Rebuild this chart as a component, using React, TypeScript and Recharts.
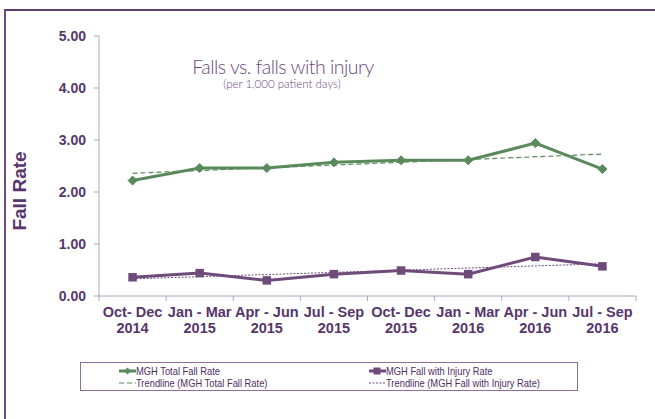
import React from 'react';
import { LineChart, Line, XAxis, YAxis, ReferenceLine } from 'recharts';

const periods = ['Oct- Dec', 'Jan - Mar', 'Apr - Jun', 'Jul - Sep', 'Oct- Dec', 'Jan - Mar', 'Apr - Jun', 'Jul - Sep'];
const years = ['2014', '2015', '2015', '2015', '2015', '2016', '2016', '2016'];
const totalFallRate = [2.22, 2.46, 2.46, 2.57, 2.61, 2.61, 2.94, 2.44];
const injuryRate = [0.36, 0.44, 0.3, 0.42, 0.49, 0.42, 0.75, 0.57];
const totalTrendEnds = [2.36, 2.73];
const injuryTrendEnds = [0.33, 0.62];
const yTicks = [0, 1, 2, 3, 4, 5];

const GREEN = '#5a895c';
const PURPLE = '#6e4b7a';
const TEXT = '#57366a';
const AXIS = '#b7a1c0';

const data = periods.map((p, i) => ({
  cat: `${p} ${years[i]}`,
  total: totalFallRate[i],
  injury: injuryRate[i],
}));
const firstCat = data[0].cat;
const lastCat = data[data.length - 1].cat;

const XTick = (props: any) => {
  const { x, y, payload } = props;
  const i = payload.index;
  const off = payload.offset || 0;
  return (
    <g>
      <line x1={x - off} y1={y} x2={x - off} y2={y + 5} stroke={AXIS} strokeWidth={1} />
      {i === periods.length - 1 && (
        <line x1={x + off} y1={y} x2={x + off} y2={y + 5} stroke={AXIS} strokeWidth={1} />
      )}
      <text x={x} y={y + 21} textAnchor="middle" fill={TEXT} fontSize={14.5} fontWeight="bold" fontFamily="Liberation Sans, Arial, sans-serif">
        {periods[i]}
      </text>
      <text x={x} y={y + 37} textAnchor="middle" fill={TEXT} fontSize={14.5} fontWeight="bold" fontFamily="Liberation Sans, Arial, sans-serif">
        {years[i]}
      </text>
    </g>
  );
};

const Diamond = (props: any) => {
  const { cx, cy } = props;
  if (cx == null || cy == null) return null;
  const r = 4.5;
  return <polygon points={`${cx},${cy - r} ${cx + r},${cy} ${cx},${cy + r} ${cx - r},${cy}`} fill={GREEN} stroke={GREEN} strokeWidth={1} />;
};

const Square = (props: any) => {
  const { cx, cy } = props;
  if (cx == null || cy == null) return null;
  const s = 8.5;
  return <rect x={cx - s / 2} y={cy - s / 2} width={s} height={s} fill={PURPLE} />;
};

const YLabel = (props: any) => {
  const vb = props.viewBox || {};
  const cx = (vb.x || 0) + 19;
  const cy = (vb.y || 0) + (vb.height || 0) / 2 + 25;
  return (
    <text x={cx} y={cy} transform={`rotate(-90, ${cx}, ${cy})`} textAnchor="middle" dominantBaseline="central" fill={TEXT} fontSize={19} fontWeight="bold" fontFamily="Liberation Sans, Arial, sans-serif">
      Fall Rate
    </text>
  );
};

const legendFont: React.CSSProperties = {
  position: 'absolute',
  fontFamily: '"Liberation Sans", Arial, sans-serif',
  fontSize: 11,
  color: '#4e2d5f',
  lineHeight: '12px',
  whiteSpace: 'nowrap',
  transform: 'scaleX(0.85)',
  transformOrigin: '0 0',
};

export default function App() {
  return (
    <div style={{ position: 'absolute', left: 0, top: 0, width: 655, height: 419, background: '#fff', overflow: 'hidden' }}>
      <div style={{ position: 'absolute', left: 4, top: 9, width: 700, height: 500, borderTop: '2px solid #5e3d6e', borderLeft: '2px solid #6e4b7a' }} />
      <LineChart
        width={655}
        height={419}
        data={data}
        margin={{ top: 36, right: 19, bottom: 83, left: 0 }}
        style={{ position: 'absolute', left: 0, top: 0 }}
      >
        <XAxis
          dataKey="cat"
          scale="band"
          height={40}
          interval={0}
          tickLine={false}
          tickSize={0}
          tickMargin={0}
          axisLine={{ stroke: AXIS, strokeWidth: 1 }}
          tick={<XTick />}
        />
        <YAxis
          width={99}
          domain={[0, 5]}
          ticks={yTicks}
          interval={0}
          tickSize={5}
          tickMargin={8}
          tickLine={{ stroke: AXIS }}
          axisLine={{ stroke: AXIS, strokeWidth: 1 }}
          tickFormatter={(v: number) => v.toFixed(2)}
          tick={{ fill: TEXT, fontSize: 14, fontWeight: 'bold', fontFamily: 'Liberation Sans, Arial, sans-serif' }}
          label={<YLabel />}
        />
        <ReferenceLine
          segment={[{ x: firstCat, y: totalTrendEnds[0] }, { x: lastCat, y: totalTrendEnds[1] }]}
          stroke={GREEN}
          strokeWidth={1.2}
          strokeDasharray="5 3"
        />
        <ReferenceLine
          segment={[{ x: firstCat, y: injuryTrendEnds[0] }, { x: lastCat, y: injuryTrendEnds[1] }]}
          stroke={PURPLE}
          strokeWidth={1}
          strokeDasharray="2 1.5"
        />
        <Line dataKey="total" stroke={GREEN} strokeWidth={3} dot={<Diamond />} activeDot={false} isAnimationActive={false} />
        <Line dataKey="injury" stroke={PURPLE} strokeWidth={3} dot={<Square />} activeDot={false} isAnimationActive={false} />
      </LineChart>

      <div style={{ position: 'absolute', left: 133, top: 57, width: 300, height: 20, lineHeight: '20px', textAlign: 'center', fontFamily: 'Lato, "Open Sans", sans-serif', fontWeight: 300, fontSize: 19.5, letterSpacing: -0.5, color: '#6a4979' }}>
        Falls vs. falls with injury
      </div>
      <div style={{ position: 'absolute', left: 132, top: 78, width: 300, height: 12, lineHeight: '12px', textAlign: 'center', fontFamily: 'Lato, "Open Sans", sans-serif', fontWeight: 300, fontSize: 11.5, color: '#6a4979' }}>
        (per 1,000 patient days)
      </div>

      <div style={{ position: 'absolute', left: 80, top: 362, width: 496, height: 27, border: '1px solid #8f6f9a' }}>
        <svg width={20} height={28} style={{ position: 'absolute', left: 37, top: 0 }}>
          <line x1={1} y1={8} x2={18} y2={8} stroke={GREEN} strokeWidth={3} />
          <polygon points="9.5,4.5 13,8 9.5,11.5 6,8" fill={GREEN} />
          <line x1={1} y1={20} x2={18} y2={20} stroke={GREEN} strokeWidth={1.2} strokeDasharray="5 3" />
        </svg>
        <div style={{ ...legendFont, left: 55, top: 2 }}>MGH Total Fall Rate</div>
        <div style={{ ...legendFont, left: 55, top: 14 }}>Trendline (MGH Total Fall Rate)</div>
        <svg width={20} height={28} style={{ position: 'absolute', left: 287, top: 0 }}>
          <line x1={1} y1={8} x2={18} y2={8} stroke={PURPLE} strokeWidth={3} />
          <rect x={5.5} y={4.5} width={7} height={7} fill={PURPLE} />
          <line x1={1} y1={20} x2={18} y2={20} stroke={PURPLE} strokeWidth={1} strokeDasharray="2 1.5" />
        </svg>
        <div style={{ ...legendFont, left: 305, top: 2 }}>MGH Fall with Injury Rate</div>
        <div style={{ ...legendFont, left: 305, top: 14 }}>Trendline (MGH Fall with Injury Rate)</div>
      </div>
    </div>
  );
}
